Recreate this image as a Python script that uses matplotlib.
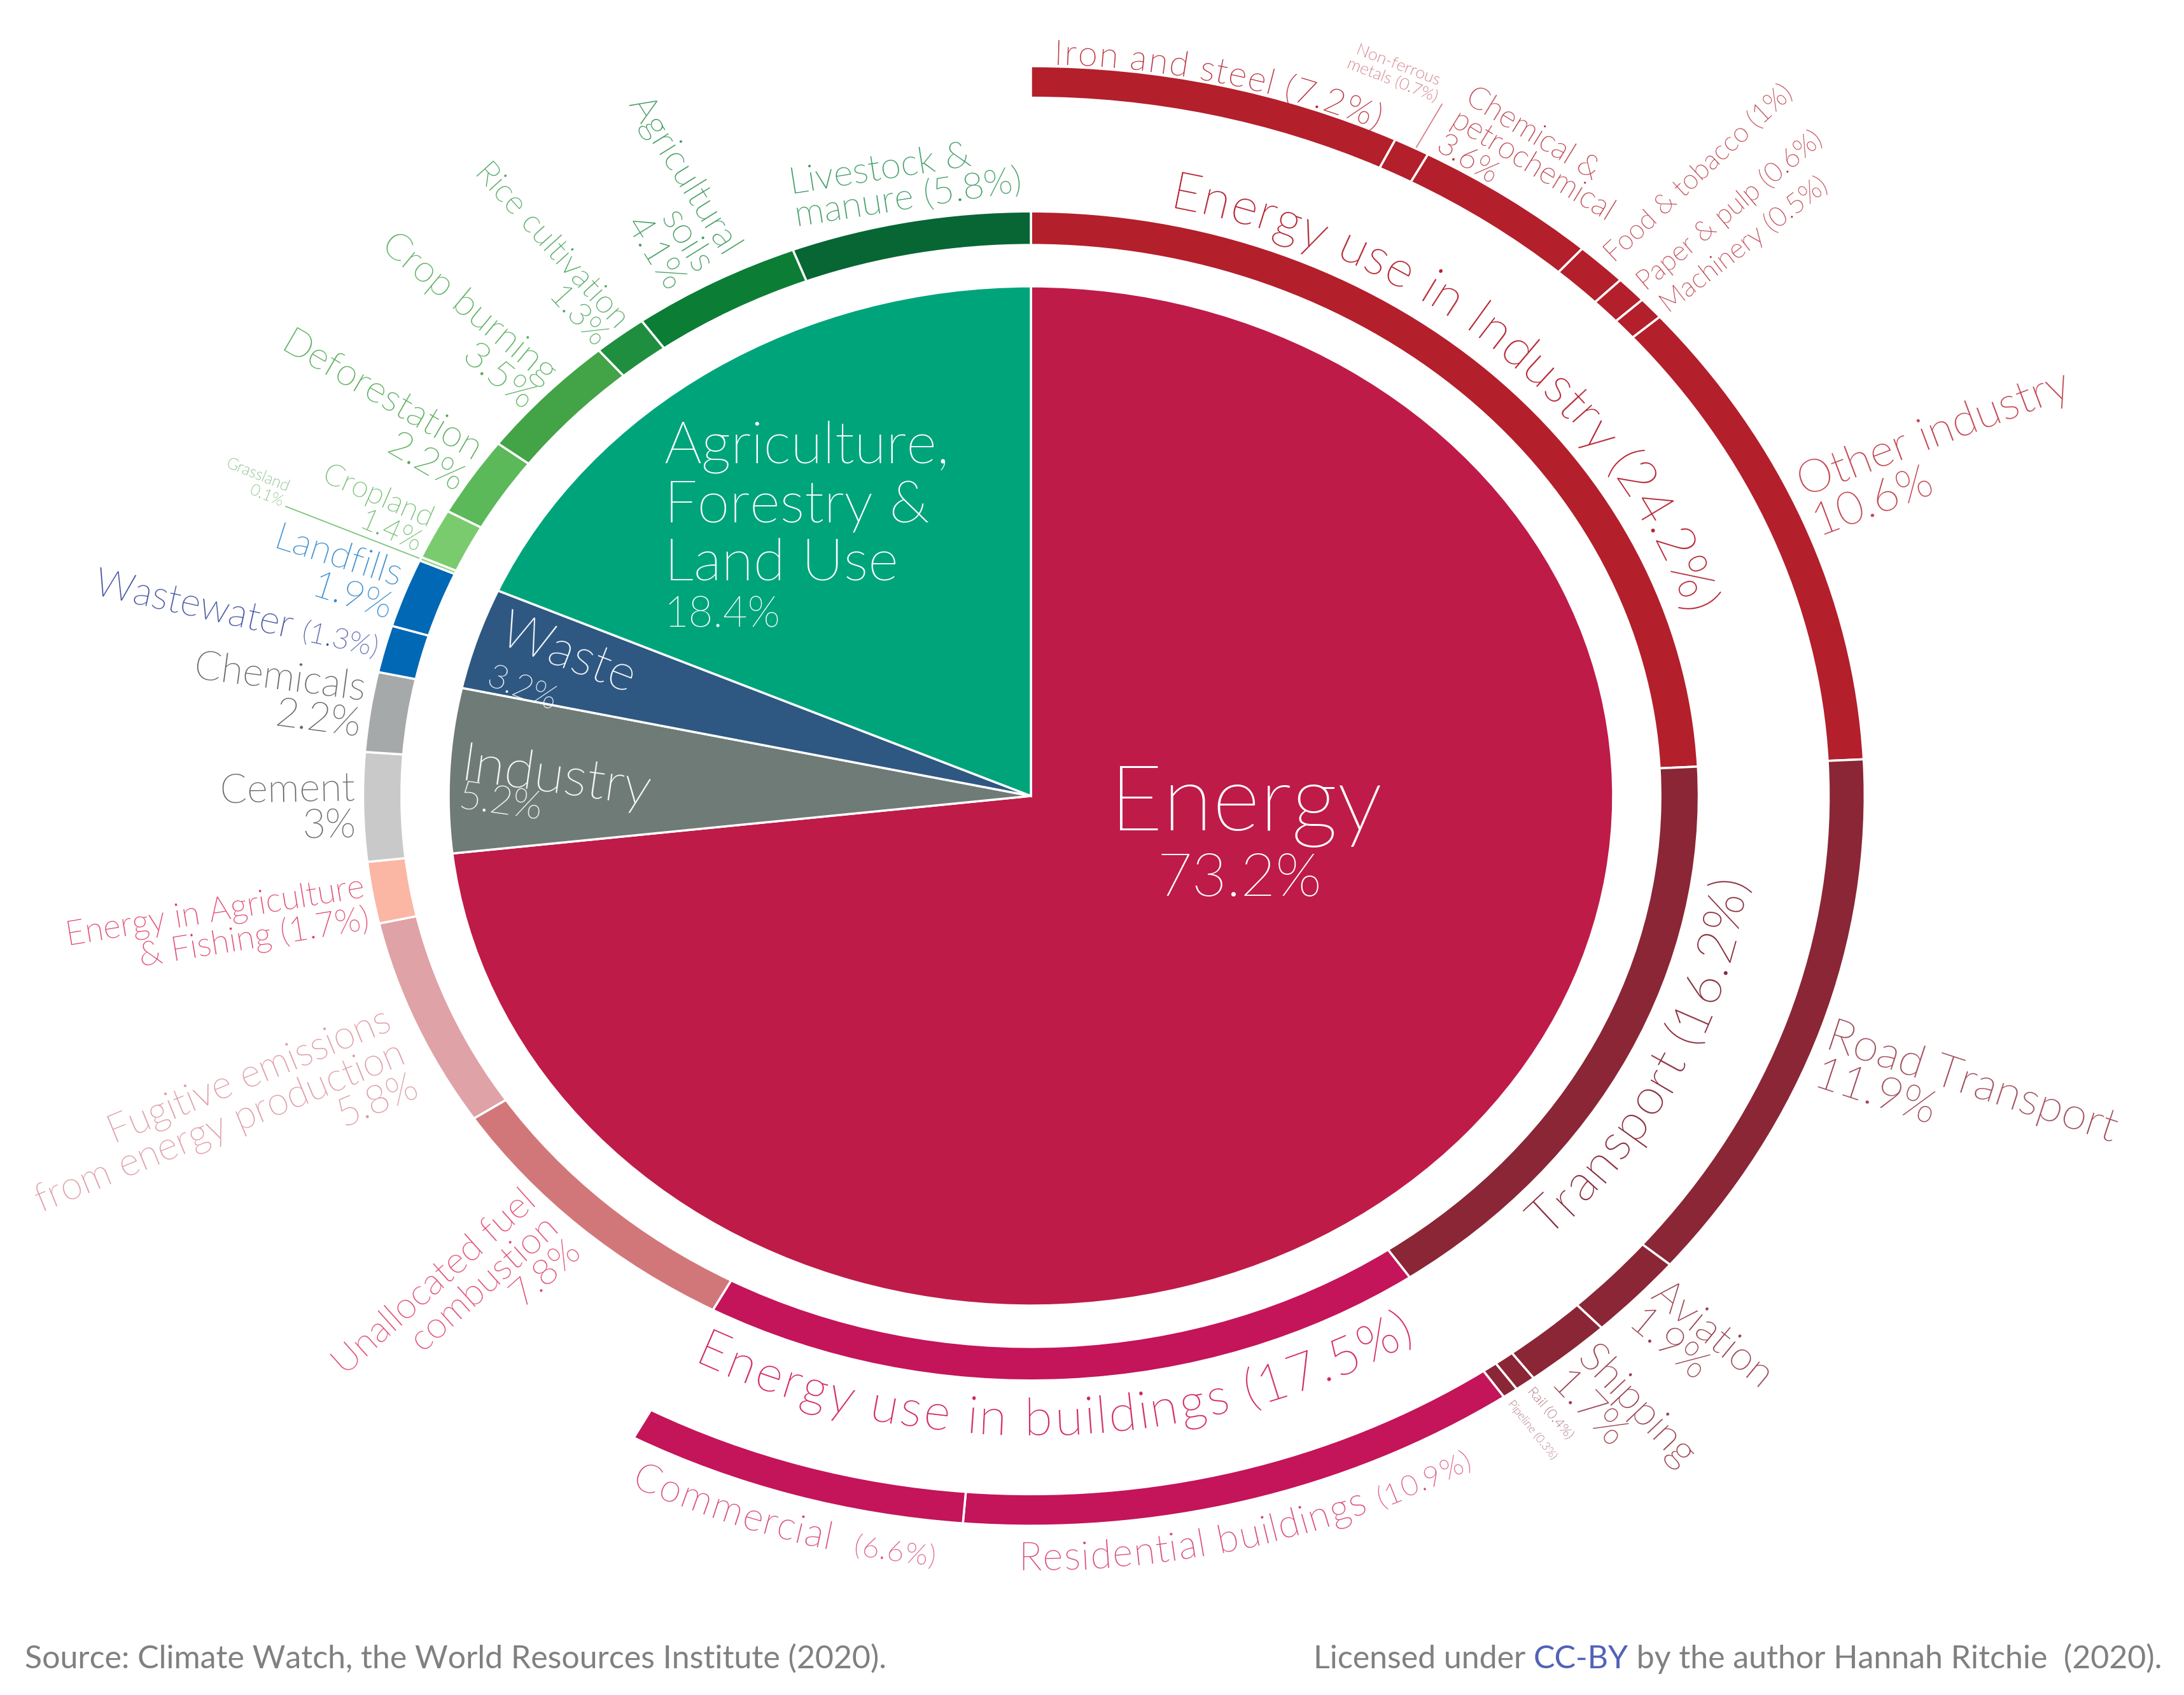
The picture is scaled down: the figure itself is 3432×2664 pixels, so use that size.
import os
import numpy as np
import matplotlib
matplotlib.use("Agg")
import matplotlib.pyplot as plt
from matplotlib import font_manager
from matplotlib.font_manager import FontProperties

try:
    from matplotlib.ft2font import LoadFlags
    NO_HINT = LoadFlags.NO_HINTING
except ImportError:
    from matplotlib.ft2font import LOAD_NO_HINTING as NO_HINT

# ---- data: global greenhouse gas emissions by sector (%) ----
sectors = ["Energy", "Industry", "Waste", "Agriculture, Forestry & Land Use"]
sector_share = [73.2, 5.2, 3.2, 18.4]
sector_colors = ["#be1b48", "#6f7b76", "#2e5882", "#00a47b"]

sub_labels = ["Energy use in Industry", "Transport", "Energy use in buildings",
              "Unallocated fuel combustion", "Fugitive emissions", "Energy in Agriculture & Fishing",
              "Cement", "Chemicals", "Wastewater", "Landfills",
              "Grassland", "Cropland", "Deforestation", "Crop burning",
              "Rice cultivation", "Agricultural soils", "Livestock & manure"]
sub_share = [24.2, 16.2, 17.5, 7.8, 5.8, 1.7, 3.0, 2.2, 1.3, 1.9, 0.1, 1.4, 2.2, 3.5, 1.3, 4.1, 5.8]
sub_colors = ["#b31f2b", "#8a2636", "#c4145a", "#d27779", "#dfa2a7", "#fbb6a4",
              "#c9c9c9", "#a6a9a9", "#0068b4", "#0068b4",
              "#8fd37f", "#7acb6e", "#5bb95a", "#43a347", "#1f8f3f", "#0b7d34", "#076634"]

detail_labels = ["Iron and steel", "Non-ferrous metals", "Chemical & petrochemical", "Food & tobacco",
                 "Paper & pulp", "Machinery", "Other industry",
                 "Road Transport", "Aviation", "Shipping", "Rail", "Pipeline",
                 "Residential buildings", "Commercial"]
detail_share = [7.2, 0.7, 3.6, 1.0, 0.6, 0.5, 10.6, 11.9, 1.9, 1.7, 0.4, 0.3, 10.9, 6.6]
detail_colors = ["#b31f2b"] * 7 + ["#8a2636"] * 5 + ["#c4145a"] * 2

# ---- layout ----
W, H, DPI = 3432, 2664, 100
CX, CY = 1620, 1251      # pie centre in pixels (from top-left)
RX, RY = 915, 801        # pixels per unit radius (chart is stretched horizontally)


def lato_file(word):
    for f in font_manager.fontManager.ttflist:
        base = os.path.basename(f.fname).lower()
        if 'lato' in base and word in base and 'italic' not in base:
            return f.fname
    return None


LIGHT = lato_file('light')
REGULAR = lato_file('regular')


def fp(size, light=True):
    path = LIGHT if light else REGULAR
    if path:
        return FontProperties(fname=path, size=size)
    return FontProperties(family='Lato', size=size)


plt.rcParams['font.family'] = ['Lato', 'DejaVu Sans']
fig = plt.figure(figsize=(W / DPI, H / DPI), dpi=DPI)
ax = fig.add_axes([0, 0, 1, 1])

edge = dict(edgecolor='white', linewidth=2.5)
ax.pie(sector_share, colors=sector_colors, startangle=90, counterclock=False,
       radius=1.0, wedgeprops=edge)
ax.pie(sub_share, colors=sub_colors, startangle=90, counterclock=False,
       radius=1.147, wedgeprops=dict(width=0.066, **edge))
rest = sum(sector_share) - sum(detail_share)
outer, _ = ax.pie(detail_share + [rest], colors=detail_colors + ["white"], startangle=90,
                  counterclock=False, radius=1.432, wedgeprops=dict(width=0.062, **edge))
outer[-1].set_visible(False)

scale = 360.0 / sum(sector_share)


def mids(shares):
    c = np.cumsum([0] + list(shares)) * scale
    return 90 - (c[:-1] + c[1:]) / 2


sub_mid = dict(zip(sub_labels, mids(sub_share)))
sub_val = dict(zip(sub_labels, sub_share))
det_mid = dict(zip(detail_labels, mids(detail_share)))
det_val = dict(zip(detail_labels, detail_share))


def advances(s, size, light=True):
    prop = fp(size, light)
    font = font_manager.get_font(font_manager.findfont(prop))
    font.set_size(size, DPI)
    return [font.load_char(ord(c), flags=NO_HINT).linearHoriAdvance / 65536.0 for c in s]


def rotation(kind, th):
    t = np.radians(th)
    if kind == 'out':
        a = np.degrees(np.arctan2(RY * np.sin(t), RX * np.cos(t)))
    elif kind == 'in':
        a = np.degrees(np.arctan2(RY * np.sin(t), RX * np.cos(t))) + 180
    elif kind == 'cw':
        a = np.degrees(np.arctan2(-RY * np.cos(t), RX * np.sin(t)))
    elif kind == 'ccw':
        a = np.degrees(np.arctan2(RY * np.cos(t), -RX * np.sin(t)))
    else:
        a = kind
    return (a + 180) % 360 - 180


def polar_text(s, th, r, rot, size, color, ha='center', va='center', ma=None):
    t = np.radians(th)
    return ax.text(r * np.cos(t), r * np.sin(t), s, rotation=rotation(rot, th),
                   rotation_mode='anchor', ha=ha, va=va, multialignment=ma or ha,
                   linespacing=1.0, fontproperties=fp(size), color=color)


def arc_text(parts, r, mid, color, reading, spread=1.07):
    chars = []
    for s, size in parts:
        for c, a in zip(s, advances(s, size)):
            chars.append((c, size, a * spread))
    total = sum(a for _, _, a in chars)
    ts = np.radians(np.linspace(mid - 180, mid + 180, 7201))
    px, py = r * RX * np.cos(ts), r * RY * np.sin(ts)
    s = np.concatenate([[0], np.cumsum(np.hypot(np.diff(px), np.diff(py)))])
    s_mid = np.interp(np.radians(mid), ts, s)
    sign = -1 if reading == 'cw' else 1
    pos = -total / 2
    for c, size, a in chars:
        t = np.interp(s_mid + sign * (pos + a / 2), s, ts)
        rot = np.degrees(np.arctan2(sign * RY * np.cos(t), -sign * RX * np.sin(t)))
        ax.text(r * np.cos(t), r * np.sin(t), c, rotation=rot, rotation_mode='anchor',
                ha='center', va='baseline', fontproperties=fp(size), color=color)
        pos += a


def pct(v):
    return f"{v:g}"


# ---- centre pie labels ----
ax.text(0.37, -0.067, sectors[0], ha='center', va='baseline', fontproperties=fp(103), color='white')
ax.text(0.358, -0.196, pct(sector_share[0]) + "%", ha='center', va='baseline',
        fontproperties=fp(68), color='white')
for line, y in zip(["Agriculture,", "Forestry &", "Land Use"], [0.652, 0.537, 0.422]):
    ax.text(-0.63, y, line, ha='left', va='baseline', fontproperties=fp(66), color='white')
ax.text(-0.63, 0.332, pct(sector_share[3]) + "%", ha='left', va='baseline',
        fontproperties=fp(48), color='white')
polar_text(sectors[2], 161.9, 0.965, -21, 58, 'white', ha='left', va='baseline')
polar_text(pct(sector_share[2]) + "%", 167.0, 0.963, -21, 38, 'white', ha='left', va='baseline')
polar_text(sectors[1], 178.2, 0.982, -8, 62, 'white', ha='left', va='baseline')
polar_text(pct(sector_share[1]) + "%", 181.4, 0.986, -8, 44, 'white', ha='left', va='baseline')

# ---- inner ring labels ----
# name: (template, angle offset, radius, rotation, ha, multialign, size, colour)
ring1_layout = {
    "Livestock & manure": ("Livestock &\nmanure ({}%)", -0.3, 1.222, 'cw', 'center', 'left', 42, "#2f9558"),
    "Agricultural soils": ("Agricultural\nsoils\n{}%", 0.3, 1.175, 'in', 'right', 'right', 42, "#369655"),
    "Rice cultivation": ("Rice cultivation\n{}%", 0.5, 1.158, 'in', 'right', 'right', 37, "#45a257"),
    "Crop burning": ("Crop burning\n{}%", 0.0, 1.158, 'in', 'right', 'right', 43, "#52ad58"),
    "Deforestation": ("Deforestation\n{}%", -0.5, 1.158, 'in', 'right', 'right', 43, "#4fa851"),
    "Cropland": ("Cropland\n{}%", 0.3, 1.16, 'in', 'right', 'right', 34, "#5fb35e"),
    "Grassland": ("Grassland\n{}%", -0.8, 1.41, 'in', 'right', 'right', 18, "#4ea356"),
    "Landfills": ("Landfills\n{}%", 0.4, 1.16, 'in', 'right', 'right', 43, "#2f86cc"),
    "Chemicals": ("Chemicals\n{}%", -0.3, 1.16, 'in', 'right', 'right', 45, "#5f5f5f"),
    "Cement": ("Cement\n{}%", 0.1, 1.16, 'in', 'right', 'right', 45, "#5f5f5f"),
    "Energy in Agriculture & Fishing": ("Energy in Agriculture\n& Fishing ({}%)", 1.0, 1.16, 'in', 'right', 'right', 38, "#de3864"),
    "Fugitive emissions": ("Fugitive emissions\nfrom energy production\n{}%", 2.0, 1.19, 'in', 'right', 'right', 44, "#de97a1"),
    "Unallocated fuel combustion": ("Unallocated fuel\ncombustion\n{}%", -2.0, 1.17, 'in', 'right', 'right', 42, "#e0426b"),
}
for name, (tpl, dth, r, rot, ha, ma, size, color) in ring1_layout.items():
    polar_text(tpl.format(pct(sub_val[name])), sub_mid[name] + dth, r, rot, size, color, ha=ha, ma=ma)

# grassland leader line
tg = np.radians(sub_mid["Grassland"])
ax.plot([1.15 * np.cos(tg), 1.40 * np.cos(tg)], [1.15 * np.sin(tg), 1.40 * np.sin(tg)],
        color="#7cc47a", lw=1.3)

# wastewater: name and a smaller share on one line
th_w = sub_mid["Wastewater"] + 0.3
rot_w = rotation('in', th_w)
w_parts = [("Wastewater ", 44), ("({}%)".format(pct(sub_val["Wastewater"])), 33)]
w_total = sum(sum(advances(s, z)) for s, z in w_parts)
x0 = 1.16 * np.cos(np.radians(th_w)) - w_total * np.cos(np.radians(rot_w)) / RX
y0 = 1.16 * np.sin(np.radians(th_w)) - w_total * np.sin(np.radians(rot_w)) / RY - 0.014
for s, z in w_parts:
    ax.text(x0, y0, s, rotation=rot_w, rotation_mode='anchor', ha='left', va='baseline',
            fontproperties=fp(z), color="#3a4a9c")
    step = sum(advances(s, z))
    x0 += step * np.cos(np.radians(rot_w)) / RX
    y0 += step * np.sin(np.radians(rot_w)) / RY

arc_text([("Energy use in Industry ({}%)".format(pct(sub_val["Energy use in Industry"])), 58)],
         1.178, sub_mid["Energy use in Industry"] + 2.4, "#b31f2d", 'cw', spread=1.03)
arc_text([("Transport ({}%)".format(pct(sub_val["Transport"])), 58)],
         1.24, sub_mid["Transport"], "#862535", 'ccw')
arc_text([("Energy use in buildings ({}%)".format(pct(sub_val["Energy use in buildings"])), 58)],
         1.255, sub_mid["Energy use in buildings"] - 1.0, "#d2235a", 'ccw', spread=1.1)

# ---- outer ring labels ----
ring2_layout = {
    "Non-ferrous metals": ("Non-ferrous\nmetals ({}%)", 3.4, 1.55, 'cw', 'center', 'center', 19, "#bb3a47"),
    "Chemical & petrochemical": ("Chemical &\npetrochemical\n{}%", 0.0, 1.505, 'cw', 'center', 'left', 35, "#b52a37"),
    "Food & tobacco": ("Food & tobacco ({}%)", 0.0, 1.45, 'out', 'left', 'left', 31, "#b52a37"),
    "Paper & pulp": ("Paper & pulp ({}%)", -0.2, 1.45, 'out', 'left', 'left', 31, "#b52a37"),
    "Machinery": ("Machinery ({}%)", -0.5, 1.45, 'out', 'left', 'left', 31, "#b52a37"),
    "Other industry": ("Other industry\n{}%", 1.3, 1.45, 'out', 'left', 'left', 52, "#c03e4a"),
    "Road Transport": ("Road Transport\n{}%", -2.0, 1.45, 'out', 'left', 'left', 52, "#9e4453"),
    "Aviation": ("Aviation\n{}%", 0.0, 1.45, 'out', 'left', 'left', 47, "#963a48"),
    "Shipping": ("Shipping\n{}%", -0.5, 1.45, 'out', 'left', 'left', 47, "#963a48"),
    "Rail": ("Rail ({}%)", 0.0, 1.445, 'out', 'left', 'left', 16, "#862535"),
    "Pipeline": ("Pipeline ({}%)", -0.4, 1.445, 'out', 'left', 'left', 13, "#862535"),
}
for name, (tpl, dth, r, rot, ha, ma, size, color) in ring2_layout.items():
    polar_text(tpl.format(pct(det_val[name])), det_mid[name] + dth, r, rot, size, color, ha=ha, ma=ma)

tn = np.radians(det_mid["Non-ferrous metals"] - 0.3)
ax.plot([1.435 * np.cos(tn), 1.53 * np.cos(tn)], [1.435 * np.sin(tn), 1.53 * np.sin(tn)],
        color="#d98088", lw=1.3)

arc_text([("Iron and steel ({}%)".format(pct(det_val["Iron and steel"])), 40)],
         1.435, det_mid["Iron and steel"], "#b31f2d", 'cw')
arc_text([("Residential buildings ", 44), ("({}%)".format(pct(det_val["Residential buildings"])), 33)],
         1.52, det_mid["Residential buildings"] - 0.5, "#d8416f", 'ccw')
arc_text([("Commercial  ", 44), ("({}%)".format(pct(det_val["Commercial"])), 33)],
         1.52, det_mid["Commercial"], "#d8416f", 'ccw')

# ---- footer ----
fy = 1 - 2622 / H
fig.text(39 / W, fy, "Source: Climate Watch, the World Resources Institute (2020).",
         fontproperties=fp(36, light=False), color="#808080", va='baseline')
foot = [("Licensed under ", "#808080"), ("CC-BY", "#5262b8"),
        (" by the author Hannah Ritchie  (2020).", "#808080")]
fx = 3397 - sum(sum(advances(s, 36, light=False)) for s, _ in foot)
for s, c in foot:
    fig.text(fx / W, fy, s, fontproperties=fp(36, light=False), color=c, va='baseline')
    fx += sum(advances(s, 36, light=False))

ax.set_aspect('auto')
ax.set_xlim(-CX / RX, (W - CX) / RX)
ax.set_ylim(-(H - CY) / RY, CY / RY)
ax.axis('off')

fig.savefig("out.png", dpi=DPI, facecolor='white')
